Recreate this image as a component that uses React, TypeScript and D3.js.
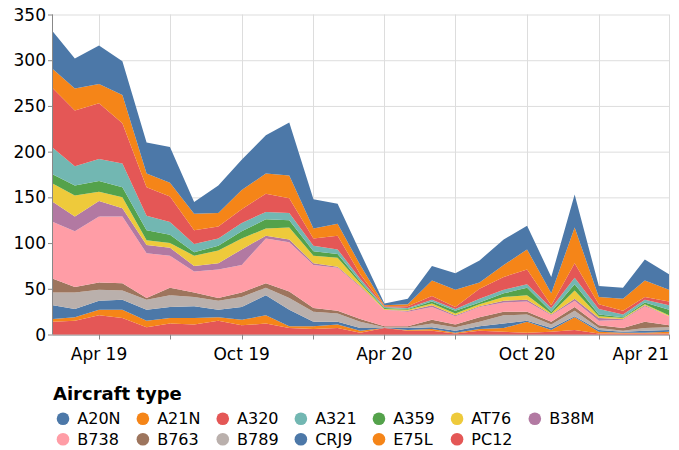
import React, { useEffect, useRef } from 'react';
import * as d3 from 'd3';

// monthly flight counts by aircraft type
const months = [
  '2019-02', '2019-03', '2019-04', '2019-05', '2019-06', '2019-07', '2019-08', '2019-09', '2019-10',
  '2019-11', '2019-12', '2020-01', '2020-02', '2020-03', '2020-04', '2020-05', '2020-06', '2020-07',
  '2020-08', '2020-09', '2020-10', '2020-11', '2020-12', '2021-01', '2021-02', '2021-03', '2021-04'
];

const A20N = [41, 33, 42, 37, 34, 39, 13, 30, 33, 42, 58, 32, 22, 14, 2, 6, 16, 18, 24, 28, 26, 18, 36, 12, 12, 23, 17];
const A21N = [21, 24, 21, 31, 15, 15, 18, 15, 21, 22, 25, 11, 13, 10, 1, 2, 17, 19, 7, 13, 22, 13, 39, 8, 13, 18, 13];
const A320 = [65, 61, 61, 44, 31, 28, 15, 13, 15, 20, 16, 8, 15, 5, 1, 2, 4, 2, 11, 14, 16, 3, 16, 5, 4, 3, 4];
const A321 = [29, 21, 24, 26, 16, 14, 9, 8, 9, 8, 8, 6, 5, 3, 1, 1, 2, 2, 4, 4, 4, 4, 7, 6, 3, 3, 5];
const A359 = [10, 11, 12, 11, 11, 9, 4, 5, 8, 10, 8, 5, 4, 2, 1, 1, 2, 3, 2, 4, 8, 2, 7, 2, 1, 2, 6];
const AT76 = [20, 23, 10, 12, 5, 5, 11, 14, 12, 8, 13, 8, 10, 3, 1, 1, 2, 2, 2, 4, 5, 1, 9, 2, 1, 1, 1];
const B38M = [22, 16, 17, 9, 9, 9, 6, 7, 17, 3, 3, 2, 1, 1, 0, 1, 2, 1, 1, 2, 2, 1, 2, 3, 1, 1, 0];
const B738 = [62, 61, 72, 73, 49, 35, 23, 31, 30, 49, 54, 47, 47, 35, 18, 16, 14, 9, 11, 10, 11, 7, 7, 5, 9, 17, 10];
const B763 = [15, 6, 8, 8, 2, 8, 5, 3, 5, 5, 7, 4, 3, 3, 1, 1, 4, 3, 5, 4, 3, 3, 4, 3, 3, 7, 2];
const B789 = [14, 18, 12, 10, 11, 13, 10, 10, 11, 8, 13, 11, 9, 7, 1, 1, 4, 4, 5, 9, 7, 4, 6, 2, 1, 3, 3];
const CRJ9 = [15, 9, 10, 11, 12, 12, 13, 8, 14, 22, 18, 5, 3, 3, 0, 2, 2, 2, 3, 5, 1, 2, 1, 2, 1, 2, 2];
const E75L = [3, 4, 6, 9, 7, 6, 7, 4, 6, 9, 2, 3, 4, 2, 0, 1, 2, 1, 2, 4, 12, 2, 14, 2, 1, 1, 2];
const PC12 = [14, 15, 21, 18, 8, 12, 11, 15, 10, 12, 7, 6, 7, 2, 7, 4, 4, 1, 4, 3, 2, 3, 5, 1, 1, 1, 1];

const types = ['A20N', 'A21N', 'A320', 'A321', 'A359', 'AT76', 'B38M', 'B738', 'B763', 'B789', 'CRJ9', 'E75L', 'PC12'];
const typeValues = { A20N, A21N, A320, A321, A359, AT76, B38M, B738, B763, B789, CRJ9, E75L, PC12 };

const palette = ['#4c78a8', '#f58518', '#e45756', '#72b7b2', '#54a24b', '#eeca3b', '#b279a2', '#ff9da6', '#9d755d', '#bab0ac'];
const yTicks = [0, 50, 100, 150, 200, 250, 300, 350];

const FONT = 'DejaVu Sans, sans-serif';

export default function App() {
  const ref = useRef<SVGSVGElement>(null);

  useEffect(() => {
    const svg = d3.select(ref.current);
    svg.selectAll('*').remove();

    const left = 53, right = 669, top = 14.5, bottom = 334.5;
    const parse = d3.utcParse('%Y-%m');

    const rows = months.map((m, i) => {
      const row: any = { date: parse(m) };
      types.forEach(t => (row[t] = typeValues[t][i]));
      return row;
    });

    const x = d3.scaleUtc().domain([rows[0].date, rows[rows.length - 1].date]).range([left, right]);
    const y = d3.scaleLinear().domain([0, 350]).range([bottom, top]);
    const color = d3.scaleOrdinal<string, string>(types, palette);

    const xTicks = x.ticks(d3.utcMonth.every(3));

    // grid
    const grid = svg.append('g');
    grid.selectAll('.gy').data(yTicks).enter().append('line')
      .attr('x1', left).attr('x2', right)
      .attr('y1', d => y(d) + 0.5).attr('y2', d => y(d) + 0.5)
      .attr('stroke', '#ddd');
    grid.selectAll('.gx').data(xTicks).enter().append('line')
      .attr('x1', d => Math.round(x(d)) + 0.5).attr('x2', d => Math.round(x(d)) + 0.5)
      .attr('y1', top).attr('y2', bottom)
      .attr('stroke', '#ddd');

    // axes (behind marks, as in vega)
    const axes = svg.append('g').attr('font-family', FONT).attr('fill', '#000');
    axes.append('line').attr('x1', left - 0.5).attr('x2', left - 0.5).attr('y1', top).attr('y2', bottom).attr('stroke', '#888');
    axes.append('line').attr('x1', left).attr('x2', right).attr('y1', bottom + 0.5).attr('y2', bottom + 0.5).attr('stroke', '#888');
    axes.selectAll('.ty').data(yTicks).enter().append('line')
      .attr('x1', left - 5).attr('x2', left)
      .attr('y1', d => y(d) + 0.5).attr('y2', d => y(d) + 0.5)
      .attr('stroke', '#888');
    axes.selectAll('.ly').data(yTicks).enter().append('text')
      .attr('x', left - 7).attr('y', d => y(d)).attr('dy', '0.36em')
      .attr('text-anchor', 'end').attr('font-size', 17)
      .text(d => d);
    axes.selectAll('.tx').data(xTicks).enter().append('line')
      .attr('x1', d => Math.round(x(d)) + 0.5).attr('x2', d => Math.round(x(d)) + 0.5)
      .attr('y1', bottom).attr('y2', bottom + 5)
      .attr('stroke', '#888');
    const fmt = d3.utcFormat('%b %y');
    const labelled = xTicks.filter(d => d.getUTCMonth() === 3 || d.getUTCMonth() === 9);
    axes.selectAll('.lx').data(labelled).enter().append('text')
      .attr('x', d => x(d)).attr('y', bottom + 25.5)
      .attr('text-anchor', (d, i) => (i === labelled.length - 1 ? 'end' : 'middle'))
      .attr('font-size', 17)
      .text(d => fmt(d));

    // stacked areas, PC12 at the bottom
    const stack = d3.stack().keys(types.slice().reverse());
    const layers = stack(rows);
    const area = d3.area<any>()
      .x(d => x(d.data.date))
      .y0(d => y(d[0]))
      .y1(d => y(d[1]));
    svg.append('g').selectAll('path').data(layers).enter().append('path')
      .attr('fill', d => color(d.key))
      .attr('d', area);

    // legend
    const legend = svg.append('g').attr('font-family', FONT);
    legend.append('text')
      .attr('x', left).attr('y', 400)
      .attr('font-size', 18).attr('font-weight', 'bold')
      .text('Aircraft type');
    const nCols = 7;
    const items = legend.selectAll('.item').data(types).enter().append('g');
    items.append('circle').attr('r', 6.3).attr('fill', d => color(d));
    const labels = items.append('text').attr('x', 14.3).attr('dy', '0.36em').attr('font-size', 16).text(d => d);
    const widths = labels.nodes().map(n => (n as SVGTextElement).getComputedTextLength());
    let cx = left + 10;
    for (let c = 0; c < nCols; c++) {
      let w = 0;
      types.forEach((t, i) => {
        if (i % nCols === c) w = Math.max(w, widths[i]);
      });
      items.filter((d, i) => i % nCols === c)
        .attr('transform', (d, i) => `translate(${cx},${418.7 + i * 20.6})`);
      cx += 14.3 + w + 22.3;
    }
  }, []);

  return (
    <svg
      ref={ref}
      width={679}
      height={450}
      style={{ position: 'absolute', left: 0, top: 0, background: '#fff' }}
    />
  );
}
